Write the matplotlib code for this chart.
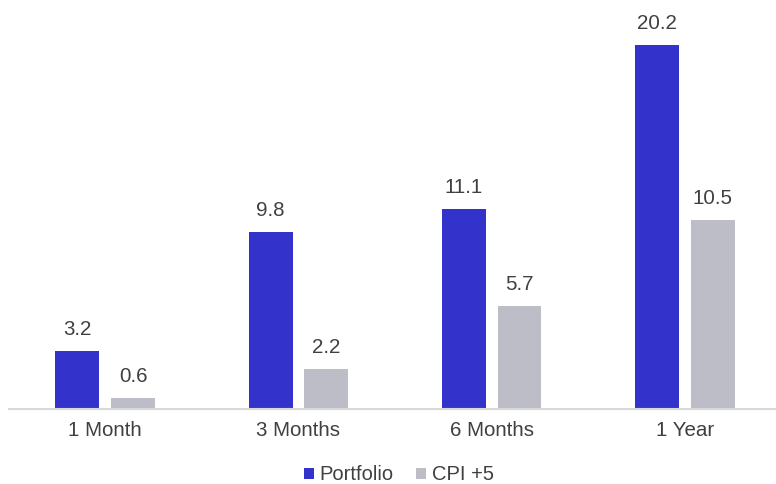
import matplotlib.pyplot as plt
import numpy as np

categories = ["1 Month", "3 Months", "6 Months", "1 Year"]
portfolio = [3.2, 9.8, 11.1, 20.2]
cpi_plus5 = [0.6, 2.2, 5.7, 10.5]

plt.rcParams["font.family"] = ["Liberation Sans", "DejaVu Sans"]
text_color = "#404040"
fs = 14.8

fig = plt.figure(figsize=(7.76, 4.84), dpi=100)
ax = fig.add_axes([8.6 / 776, 75 / 484, 773 / 776, 396.4 / 484])

x = np.arange(len(categories))
width = 0.227
offset = 0.144

b1 = ax.bar(x - offset, portfolio, width, color="#3333CC", label="Portfolio")
b2 = ax.bar(x + offset, cpi_plus5, width, color="#BDBDC7", label="CPI +5")

# value labels above the bars
for bars, vals in ((b1, portfolio), (b2, cpi_plus5)):
    for rect, v in zip(bars, vals):
        ax.annotate(f"{v:.1f}", (rect.get_x() + rect.get_width() / 2, v),
                    xytext=(0, 11.5), textcoords="offset points",
                    ha="center", va="baseline", fontsize=fs, color=text_color)

ax.set_xlim(-0.5, len(categories) - 0.5)
ax.set_ylim(0, 22)
ax.set_xticks(x)
ax.set_xticklabels(categories, fontsize=fs, color=text_color)
ax.tick_params(axis="x", length=0, pad=8.5)
ax.set_yticks([])
for side in ("top", "right", "left"):
    ax.spines[side].set_visible(False)
ax.spines["bottom"].set_color("#D9D9D9")
ax.spines["bottom"].set_linewidth(1.5)

leg = fig.legend(loc="center", bbox_to_anchor=(399 / 776, 1 - 475 / 484), ncol=2,
                 frameon=False, fontsize=fs - 0.3, handlelength=0.5, handleheight=0.5,
                 handletextpad=0.3, columnspacing=1.1)
for t in leg.get_texts():
    t.set_color(text_color)

fig.savefig("out.png", dpi=100)
